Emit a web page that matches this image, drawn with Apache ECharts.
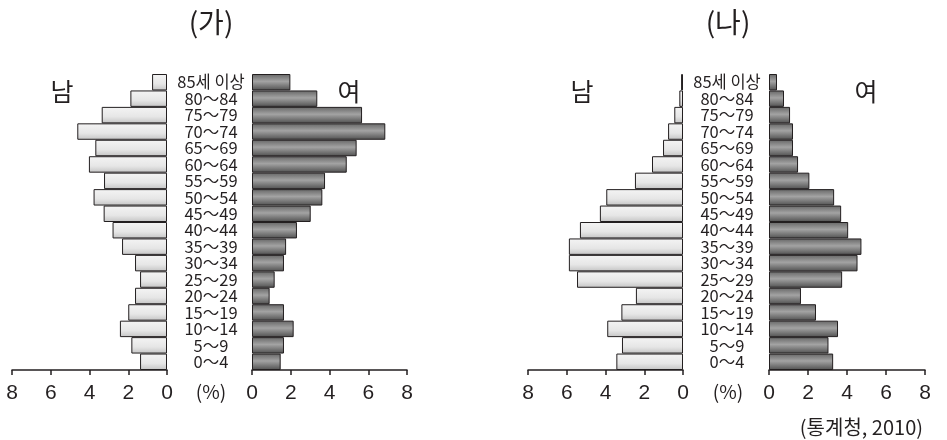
<!DOCTYPE html>
<html><head><meta charset="utf-8">
<script src="https://cdn.jsdelivr.net/npm/echarts@6/dist/echarts.min.js"></script>
<style>html,body{margin:0;padding:0;background:#fff}#c{width:947px;height:440px}</style>
</head><body><div id="c"></div>
<script>
// categories, bottom to top
const categories = ['0～4','5～9','10～14','15～19','20～24','25～29','30～34','35～39','40～44','45～49','50～54','55～59','60～64','65～69','70～74','75～79','80～84','85세 이상'];
// (가)
const maleA   = [1.39, 1.84, 2.43, 2.0, 1.65, 1.39, 1.65, 2.32, 2.81, 3.27, 3.79, 3.25, 4.03, 3.70, 4.63, 3.37, 1.89, 0.77];
const femaleA = [1.48, 1.65, 2.15, 1.65, 0.91, 1.17, 1.65, 1.76, 2.32, 3.03, 3.63, 3.77, 4.89, 5.40, 6.88, 5.68, 3.37, 1.98];
// (나)
const maleB   = [3.44, 3.15, 3.91, 3.18, 2.43, 5.47, 5.89, 5.89, 5.32, 4.29, 3.96, 2.48, 1.60, 1.03, 0.77, 0.45, 0.19, 0.10];
const femaleB = [3.29, 3.05, 3.54, 2.41, 1.64, 3.75, 4.54, 4.74, 4.06, 3.70, 3.34, 2.07, 1.49, 1.23, 1.23, 1.08, 0.77, 0.41];
const axisMin = 0, axisMax = 8, axisStep = 2;
const titles = ['(가)', '(나)'];
const sexLabels = ['남', '여'];
const unitLabel = '(%)';
const sourceLabel = '(통계청, 2010)';

const ink = '#231f20';
const FONT = '"Liberation Sans Narrow","Liberation Sans","Noto Sans CJK KR",sans-serif';
const maleColor = {type:'linear',x:0,y:0,x2:0,y2:1,colorStops:[{offset:0,color:'#f4f4f4'},{offset:0.6,color:'#e6e6e6'},{offset:1,color:'#c4c4c4'}]};
const femaleColor = {type:'linear',x:0,y:0,x2:0,y2:1,colorStops:[{offset:0,color:'#666666'},{offset:0.45,color:'#a3a3a3'},{offset:1,color:'#505050'}]};

const grids = [
  {left:12, width:155, top:74, height:296},
  {left:252, width:155, top:74, height:296},
  {left:528, width:155, top:74, height:296},
  {left:769, width:156, top:74, height:296}
];
const xAxes = grids.map((g,i)=>({
  type:'value', gridIndex:i, min:axisMin, max:axisMax, interval:axisStep,
  inverse: i%2===0,
  axisLine:{show:true, lineStyle:{color:ink, width:1.5}},
  axisTick:{show:true, inside:false, length:5, lineStyle:{color:ink, width:1.5}},
  splitLine:{show:false},
  axisLabel:{color:ink, fontSize:21, margin:13, fontFamily:FONT}
}));
const yAxes = grids.map((g,i)=>({
  type:'category', gridIndex:i, data:categories,
  position: i%2===0 ? 'right' : 'left',
  axisLine:{show:false}, axisTick:{show:false},
  axisLabel: i%2===0 ? {show:true, align:'center', margin:44, color:ink, fontSize:16.5, fontFamily:'"Noto Sans CJK KR",sans-serif', interval:0} : {show:false}
}));
const dataSets = [maleA, femaleA, maleB, femaleB];
const series = dataSets.map((d,i)=>({
  type:'bar', xAxisIndex:i, yAxisIndex:i, data:d,
  barCategoryGap:'0%', silent:true,
  itemStyle:{color: i%2===0 ? maleColor : femaleColor, borderColor:ink, borderWidth:1}
}));

function txt(x,y,s,size,align){
  return {type:'text', x:x, y:y, style:{text:s, fill:ink, font:size+'px "Noto Sans CJK KR",sans-serif', textAlign:align||'center', textVerticalAlign:'middle'}};
}
const graphic = [
  txt(211,22,titles[0],28), txt(728,22,titles[1],28),
  txt(62,91,sexLabels[0],25), txt(349,91,sexLabels[1],25),
  txt(582,91,sexLabels[0],25), txt(866,91,sexLabels[1],25),
  txt(211,392,unitLabel,19), txt(728,392,unitLabel,19),
  txt(923,427,sourceLabel,20,'right')
];

const chart = echarts.init(document.getElementById('c'), null, {renderer:'canvas'});
chart.setOption({
  animation:false,
  grid:grids, xAxis:xAxes, yAxis:yAxes, series:series, graphic:graphic
});
</script></body></html>
